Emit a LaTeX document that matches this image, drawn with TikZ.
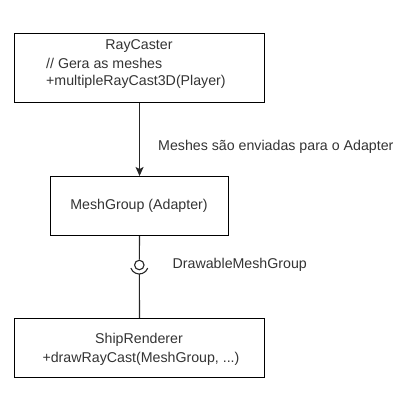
\documentclass[tikz,border=0pt]{standalone}
\usepackage{fontspec}
\setmainfont{Liberation Sans}
\usetikzlibrary{arrows.meta}
\definecolor{txt}{HTML}{333333}
\begin{document}
\begin{tikzpicture}[x=1pt,y=-1pt,
  box/.style={draw=black,line width=1.1pt},
  lbl/.style={inner sep=0pt,text=txt,font=\fontsize{14.2pt}{17pt}\selectfont},
  conn/.style={draw=black!85,line width=1.1pt}]
\useasboundingbox (0,0) rectangle (403,418);
\node[box,minimum width=250pt,minimum height=69pt,anchor=north west,inner sep=0pt] (rc) at (14,33) {};
\node[lbl] (rct) at (139,46) {RayCaster};
\node[lbl,anchor=west] (rc2) at (46,63.5) {// Gera as meshes};
\node[lbl,anchor=west] (rc3) at (46,81.5) {+multipleRayCast3D(Player)};
\node[box,minimum width=178pt,minimum height=59pt,anchor=north west,inner sep=0pt] (mg) at (50,176) {};
\node[lbl] (mgt) at (139,205.5) {MeshGroup (Adapter)};
\node[box,minimum width=250pt,minimum height=59pt,anchor=north west,inner sep=0pt] (sr) at (14,318) {};
\node[lbl] (srt) at (139,339.5) {ShipRenderer};
\node[lbl] (srt2) at (141,358.5) {+drawRayCast(MeshGroup, ...)};
\draw[conn,-{Stealth[length=9pt,width=8pt,inset=2pt]}] (rc.south) -- (mg.north);
\node[lbl,anchor=west] (l1) at (158,146.5) {Meshes são enviadas para o Adapter};
\coordinate (ic) at (139.3,265);
\node[draw=black!85,line width=1.1pt,circle,minimum size=9.5pt,inner sep=0pt] (ball) at (ic) {};
\coordinate (sock) at (139.3,274);
\draw[conn] (mg.south) -- (ball.north);
\draw[conn] ([shift={(200:9pt)}]ic) arc[start angle=200,end angle=340,radius=9pt];
\draw[conn] (sock) -- (sr.north);
\node[lbl,anchor=west] (l2) at (172.5,265) {DrawableMeshGroup};
\end{tikzpicture}
\end{document}
